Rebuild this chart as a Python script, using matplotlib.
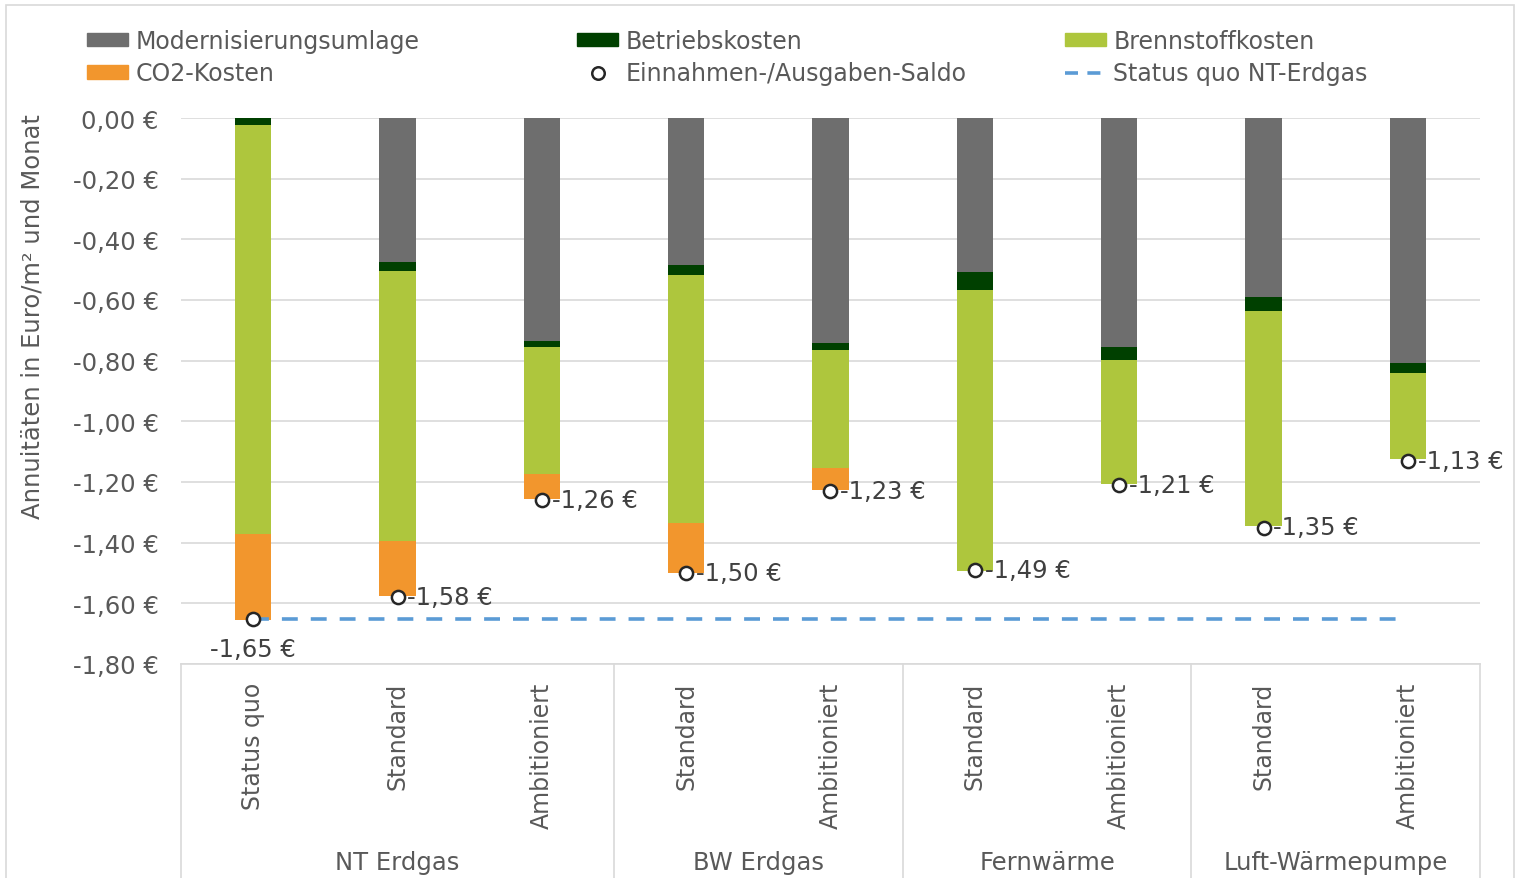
import numpy as np
import matplotlib
matplotlib.use('Agg')
import matplotlib.pyplot as plt
from matplotlib import transforms
from matplotlib.patches import Patch, Rectangle
from matplotlib.lines import Line2D

plt.rcParams['font.family'] = ['DejaVu Sans']

# 1. Daten (Euro/m² und Monat)
gruppen = ['NT Erdgas', 'BW Erdgas', 'Fernwärme', 'Luft-Wärmepumpe']
gruppen_anzahl = [3, 2, 2, 2]
varianten = ['Status quo', 'Standard', 'Ambitioniert', 'Standard', 'Ambitioniert',
             'Standard', 'Ambitioniert', 'Standard', 'Ambitioniert']
modernisierung = [0.0, -0.475, -0.736, -0.485, -0.742, -0.509, -0.756, -0.591, -0.808]
betrieb = [-0.024, -0.028, -0.020, -0.034, -0.024, -0.058, -0.041, -0.044, -0.033]
brennstoff = [-1.349, -0.893, -0.419, -0.816, -0.389, -0.925, -0.409, -0.710, -0.283]
co2 = [-0.281, -0.181, -0.081, -0.165, -0.071, 0.0, 0.0, 0.0, 0.0]
saldo = [-1.65, -1.58, -1.26, -1.50, -1.23, -1.49, -1.21, -1.35, -1.13]
status_quo = [-1.65] * 9
y_ticks = [0.0, -0.2, -0.4, -0.6, -0.8, -1.0, -1.2, -1.4, -1.6, -1.8]

# 2. Farben
c_mod = '#6e6e6e'
c_betrieb = '#004000'
c_brenn = '#aec63d'
c_co2 = '#f2962d'
c_linie = '#5b9bd5'
c_text = '#595959'
c_grid = '#d9d9d9'

def euro(v):
    s = f"{v:.2f} €".replace('.', ',')
    return '0,00 €' if s == '-0,00 €' else s

W, H = 1518, 879
fig = plt.figure(figsize=(W / 100, H / 100), dpi=100)
ax = fig.add_axes([181 / W, 1 - 665 / H, (1480 - 181) / W, 546 / H])

# 3. gestapelte Balken
x = np.arange(len(varianten))
b1 = np.array(modernisierung)
b2 = b1 + np.array(betrieb)
b3 = b2 + np.array(brennstoff)
breite = 0.25
ax.bar(x, modernisierung, width=breite, color=c_mod, zorder=2)
ax.bar(x, betrieb, bottom=b1, width=breite, color=c_betrieb, zorder=2)
ax.bar(x, brennstoff, bottom=b2, width=breite, color=c_brenn, zorder=2)
ax.bar(x, co2, bottom=b3, width=breite, color=c_co2, zorder=2)

# 4. Linie Status quo + Saldo-Punkte
ax.plot(x, status_quo, color=c_linie, lw=2.6, dashes=(4.4, 3.6), zorder=3)
ax.plot(x, saldo, 'o', ms=9.5, mfc='white', mec='#262626', mew=1.8, zorder=4)
for i, v in enumerate(saldo):
    if i == 0:
        ax.annotate(euro(v), (x[i], v), xytext=(0, -22), textcoords='offset points',
                    ha='center', va='center', fontsize=17.5, color='#404040')
    else:
        ax.annotate(euro(v), (x[i], v), xytext=(7, 0), textcoords='offset points',
                    ha='left', va='center', fontsize=17.5, color='#404040')

# 5. Achsen
ax.set_xlim(-0.5, 8.5)
ax.set_ylim(-1.8, 0)
ax.set_yticks(y_ticks)
ax.set_yticklabels([euro(v) for v in y_ticks])
ax.grid(axis='y', color=c_grid, lw=1.2, zorder=0)
ax.set_axisbelow(True)
for s in ['top', 'left', 'right']:
    ax.spines[s].set_visible(False)
ax.spines['bottom'].set_color(c_grid)
ax.spines['bottom'].set_linewidth(1.2)
ax.tick_params(axis='y', length=0, pad=16, labelsize=17.5, labelcolor=c_text)
ax.set_xticks(x)
ax.set_xticklabels(varianten, rotation=90, va='top', ha='center')
ax.tick_params(axis='x', length=0, pad=13, labelsize=17, labelcolor=c_text)

# 6. Gruppen-Achse unten
trans = transforms.blended_transform_factory(ax.transData, ax.transAxes)
unten = -(H - 665) / 546
grenzen = np.concatenate([[0], np.cumsum(gruppen_anzahl)]) - 0.5
for g in grenzen:
    ax.plot([g, g], [0, unten], transform=trans, clip_on=False, color=c_grid, lw=1.2)
for i, name in enumerate(gruppen):
    mitte = (grenzen[i] + grenzen[i + 1]) / 2
    ax.text(mitte, -(863 - 665) / 546, name, transform=trans, ha='center', va='center',
            fontsize=17.5, color=c_text)

# 7. Achsentitel
fig.text(33 / W, 1 - 317 / H, 'Annuitäten in Euro/m² und Monat', rotation=90,
         ha='center', va='center', fontsize=17.5, color=c_text)

# 8. Legende (drei Spalten, je zwei Zeilen)
kreis = Line2D([], [], ls='', marker='o', ms=9, mfc='white', mec='#262626', mew=1.8)
strich = Line2D([], [], color=c_linie, lw=2.6, dashes=(3.6, 2.6))
spalten = [
    (87, [Patch(color=c_mod), Patch(color=c_co2)], ['Modernisierungsumlage', 'CO2-Kosten']),
    (577, [Patch(color=c_betrieb), kreis], ['Betriebskosten', 'Einnahmen-/Ausgaben-Saldo']),
    (1065, [Patch(color=c_brenn), strich], ['Brennstoffkosten', 'Status quo NT-Erdgas']),
]
for xpos, hd, lb in spalten:
    fig.legend(hd, lb, loc='upper left', bbox_to_anchor=(xpos / W, 1 - 30 / H),
               frameon=False, fontsize=17, handlelength=1.75, handleheight=0.5,
               handletextpad=0.3, labelspacing=0.35, borderpad=0, borderaxespad=0,
               labelcolor=c_text)

# 9. Rahmen
fig.patches.append(Rectangle((6 / W, -0.01), (1514 - 6) / W, 1 - 6 / H + 0.01,
                             transform=fig.transFigure, fill=False, ec=c_grid, lw=1.2))

fig.savefig('out.png', dpi=100)
